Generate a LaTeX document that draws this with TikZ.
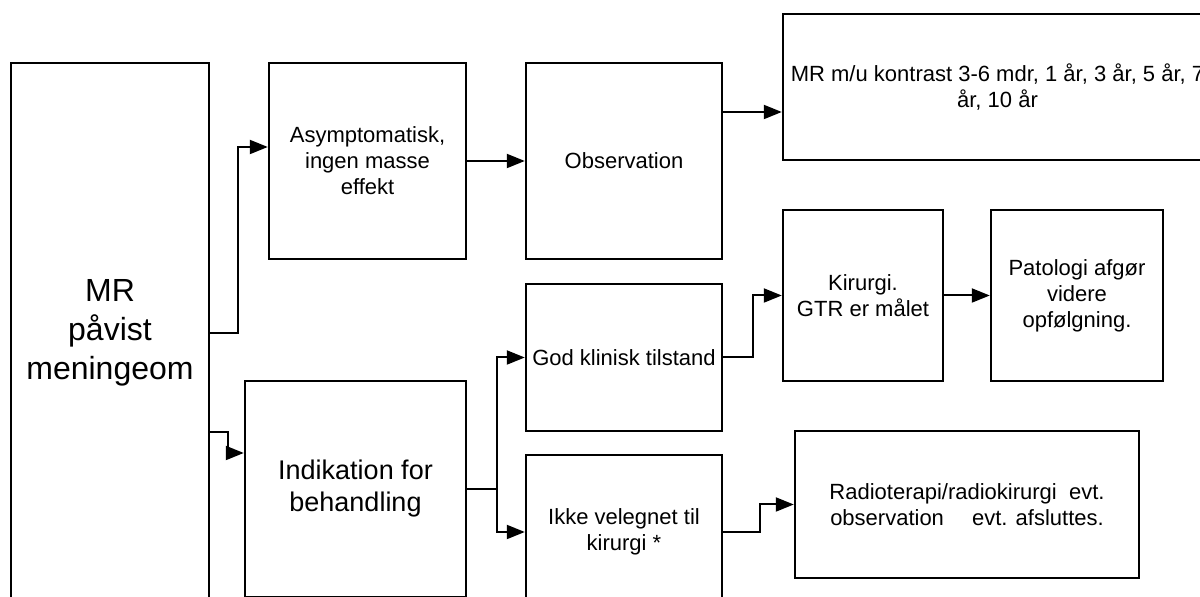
\documentclass[tikz,border=0pt]{standalone}
\usepackage{fontspec}
\setmainfont{Liberation Sans}
\usetikzlibrary{arrows.meta}
\tikzset{
  box/.style={draw, line width=1.2pt, inner sep=0pt, align=center, font=\fontsize{11}{13}\selectfont},
  arr/.style={line width=1pt, -{Triangle[length=9pt,width=7pt]}}
}
\begin{document}
\begin{tikzpicture}[x=0.5pt,y=-0.5pt]
\clip (0,0) rectangle (1200,597);
\node[box, minimum width=99pt, minimum height=270pt, font=\fontsize{16}{19.5}\selectfont] (mr) at (110,333) {MR\\påvist\\meningeom};
\node[box, minimum width=98.5pt, minimum height=98pt] (asym) at (367.5,161) {Asymptomatisk,\\ingen masse\\effekt};
\node[box, minimum width=98pt, minimum height=98pt] (obs) at (624,161) {Observation};
\node[box, minimum width=214.5pt, minimum height=73pt] (kontr) at (997.5,87) {MR m/u kontrast 3-6 mdr, 1 år, 3 år, 5 år, 7\\år, 10 år};
\node[box, minimum width=98pt, minimum height=73.5pt] (god) at (624,357.5) {God klinisk tilstand};
\node[box, minimum width=80pt, minimum height=85.5pt] (kir) at (863,295.5) {Kirurgi.\\GTR er målet};
\node[box, minimum width=86pt, minimum height=85.5pt] (pat) at (1077,295.5) {Patologi afgør\\videre\\opfølgning.};
\node[box, minimum width=110.5pt, minimum height=108pt, font=\fontsize{13.5}{16}\selectfont] (ind) at (355.5,489) {Indikation for\\behandling};
\node[box, minimum width=98pt, minimum height=77pt] (ikke) at (624,532) {Ikke velegnet til\\kirurgi *};
\node[box, minimum width=172pt, minimum height=73.5pt] (radio) at (967,504.5) {Radioterapi/radiokirurgi\ \ evt.\\observation\quad\ evt. afsluttes.};
\draw[arr] (mr.east) -- ++(28,0) |- ([yshift=7pt]asym.west);
\draw[arr] ([yshift=-49.5pt]mr.east) -- ++(18,0) |- ([yshift=18pt]ind.west);
\draw[arr] (asym.east) -- (obs.west);
\draw[arr] ([yshift=24.5pt]obs.east) -- ([yshift=-12.5pt]kontr.west);
\draw[arr] (ind.east) -- ++(30,0) |- (god.west);
\draw[arr] (ind.east) -- ++(30,0) |- (ikke.west);
\draw[arr] (god.east) -- ++(30,0) |- (kir.west);
\draw[arr] (kir.east) -- (pat.west);
\draw[arr] (ikke.east) -- ++(37,0) |- (radio.west);
\end{tikzpicture}
\end{document}
